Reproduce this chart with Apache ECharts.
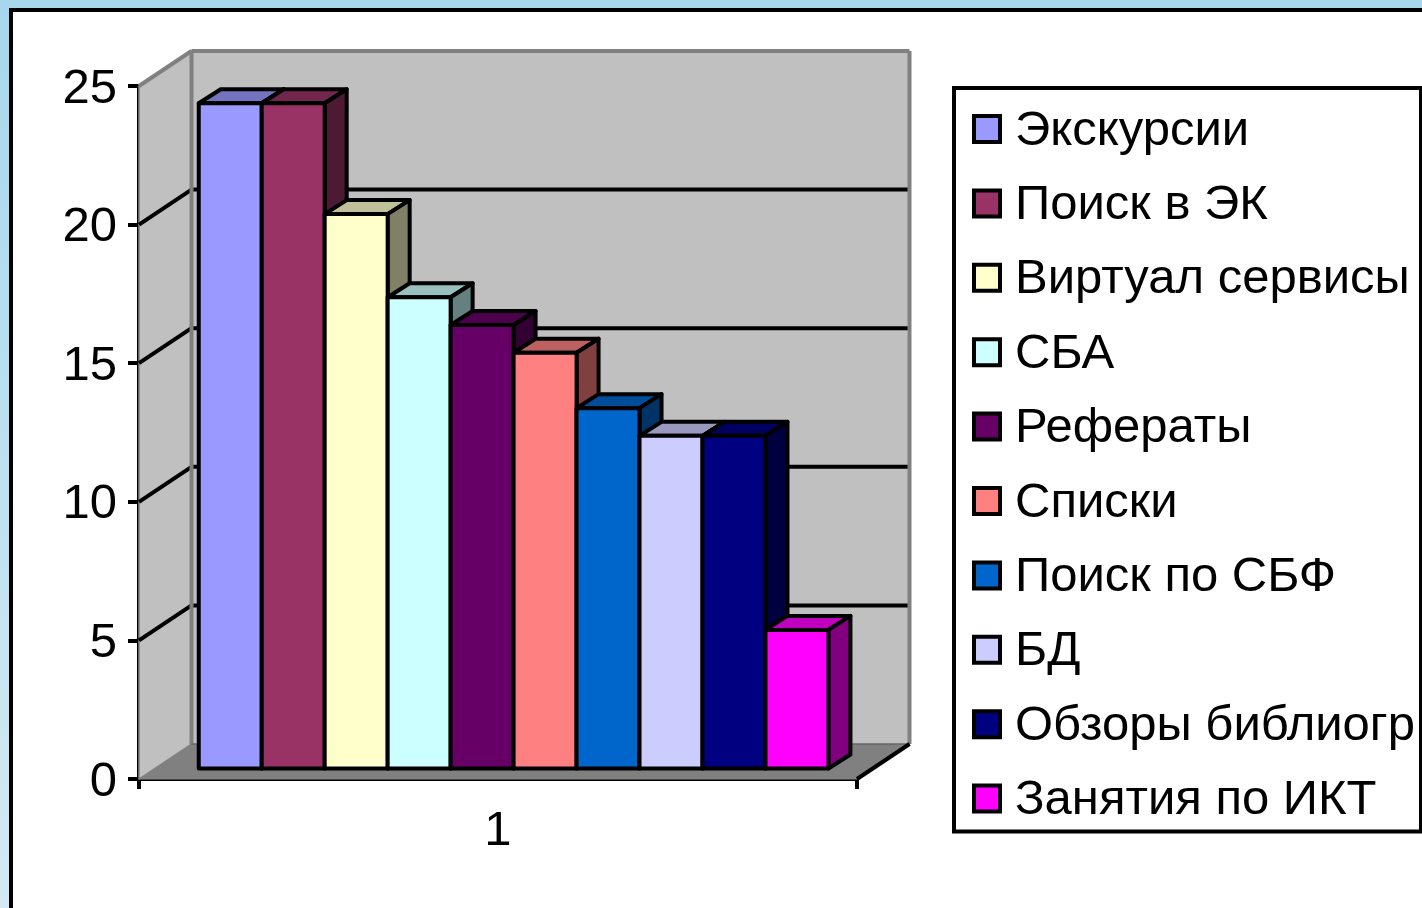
<!DOCTYPE html>
<html>
<head>
    <meta charset="utf-8">
    <title>Услуги</title>
    <script src="https://cdn.jsdelivr.net/npm/echarts@6/dist/echarts.min.js"></script>
    <style>
        html, body { margin: 0; padding: 0; overflow: hidden; }
    </style>
</head>
<body>
<div id="main" style="width: 1422px;height:908px;"></div>
<script type="text/javascript">
    var categories = ['1'];
    var names = ['Экскурсии', 'Поиск в ЭК', 'Виртуал сервисы', 'СБА', 'Рефераты', 'Списки', 'Поиск по СБФ', 'БД', 'Обзоры библиогр', 'Занятия по ИКТ'];
    var values = [24, 24, 20, 17, 16, 15, 13, 12, 12, 5];
    var colors = ['#9999FF', '#993366', '#FFFFCC', '#CCFFFF', '#660066', '#FF8080', '#0066CC', '#CCCCFF', '#000080', '#FF00FF'];
    var yTicks = [5, 10, 15, 20];

    var font = '"Liberation Sans", Arial, sans-serif';
    // 3D look: wall depth and where the bars sit inside it
    var wallDx = 52.5, wallDy = -35;
    var barShiftX = 15.6, barShiftY = -10.5;
    var barDx = 22, barDy = -14;
    var groupRatio = 0.877;

    var myChart = echarts.init(document.getElementById('main'));

    function shade(hex, k) {
        var n = parseInt(hex.slice(1), 16);
        var r = Math.round((n >> 16 & 255) * k);
        var g = Math.round((n >> 8 & 255) * k);
        var b = Math.round((n & 255) * k);
        return 'rgb(' + r + ',' + g + ',' + b + ')';
    }

    function poly(points, fill, stroke, width) {
        return {
            type: 'polygon',
            shape: {points: points},
            style: {fill: fill, stroke: stroke, lineWidth: width, lineJoin: 'round'}
        };
    }

    function line(p1, p2, stroke, width) {
        return {
            type: 'line',
            shape: {x1: p1[0], y1: p1[1], x2: p2[0], y2: p2[1]},
            style: {stroke: stroke, lineWidth: width}
        };
    }

    // side wall, back wall, floor and the grid lines on them
    function renderWalls(params, api) {
        var top = api.coord([0, 25])[1];
        var bottom = api.coord([0, 0])[1];
        var cs = params.coordSys;
        var x0 = cs.x, x1 = cs.x + cs.width;
        var bx0 = x0 + wallDx, bx1 = x1 + wallDx;
        var items = [
            poly([[x0, bottom], [bx0, bottom + wallDy], [bx1, bottom + wallDy], [x1, bottom]], '#808080', '#808080', 1),
            poly([[x0, top], [bx0, top + wallDy], [bx0, bottom + wallDy], [x0, bottom]], '#C0C0C0', '#808080', 1.5),
            poly([[bx0, top + wallDy], [bx1, top + wallDy], [bx1, bottom + wallDy], [bx0, bottom + wallDy]], '#C0C0C0', null, 0)
        ];
        for (var i = 0; i < yTicks.length; i++) {
            var y = api.coord([0, yTicks[i]])[1];
            items.push(line([x0, y], [bx0, y + wallDy], '#000', 4));
            items.push(line([bx0, y + wallDy], [bx1, y + wallDy], '#000', 4));
        }
        items.push(line([x0, top], [bx0, top + wallDy], '#808080', 4));
        items.push(line([bx0, top + wallDy], [bx1, top + wallDy], '#808080', 4));
        items.push(line([bx0, top + wallDy], [bx0, bottom + wallDy], '#808080', 4));
        items.push(line([bx1, top + wallDy], [bx1, bottom + wallDy], '#808080', 4));
        items.push(line([bx0, bottom + wallDy], [bx1, bottom + wallDy], '#666666', 1.5));
        items.push(line([x1, bottom], [bx1, bottom + wallDy], '#000', 4));
        return {type: 'group', children: items};
    }

    function makeBarRenderer(index) {
        return function (params, api) {
            var center = api.coord([api.value(0), 0])[0];
            var band = api.size([1, 0])[0];
            var w = band * groupRatio / values.length;
            var left = center - band * groupRatio / 2 + index * w + barShiftX;
            var right = left + w;
            var base = api.coord([0, 0])[1] + barShiftY;
            var top = api.coord([0, api.value(1)])[1] + barShiftY;
            var color = colors[index];
            return {
                type: 'group',
                children: [
                    poly([[left, top], [left + barDx, top + barDy], [right + barDx, top + barDy], [right, top]], shade(color, 0.75), '#000', 4),
                    poly([[right, top], [right + barDx, top + barDy], [right + barDx, base + barDy], [right, base]], shade(color, 0.5), '#000', 4),
                    poly([[left, top], [right, top], [right, base], [left, base]], color, '#000', 4)
                ]
            };
        };
    }

    var series = [{
        type: 'custom',
        name: 'walls',
        renderItem: renderWalls,
        encode: {x: 0, y: 1},
        clip: false,
        silent: true,
        data: [[0, 0]]
    }];
    var legendData = [];
    for (var i = 0; i < names.length; i++) {
        series.push({
            type: 'custom',
            name: names[i],
            renderItem: makeBarRenderer(i),
            encode: {x: 0, y: 1},
            clip: false,
            itemStyle: {color: colors[i]},
            data: [[0, values[i]]]
        });
        legendData.push({
            name: names[i],
            icon: 'rect',
            itemStyle: {color: colors[i], borderColor: '#000', borderWidth: 4}
        });
    }

    var option = {
        animation: false,
        backgroundColor: {
            type: 'linear', x: 0, y: 0, x2: 0, y2: 1,
            colorStops: [{offset: 0, color: '#A6D7EC'}, {offset: 1, color: '#D4E9F4'}]
        },
        textStyle: {fontFamily: font},
        graphic: [{
            type: 'rect',
            z: -1,
            shape: {x: 11, y: 10, width: 1500, height: 1000},
            style: {fill: '#fff', stroke: '#000', lineWidth: 4}
        }],
        grid: {left: 139, top: 86, width: 718, height: 693},
        legend: {
            orient: 'vertical',
            left: 954,
            top: 88,
            padding: [18.5, 6, 6.5, 18],
            itemWidth: 26,
            itemHeight: 26,
            itemGap: 25.4,
            selectedMode: false,
            backgroundColor: '#fff',
            borderColor: '#000',
            borderWidth: 4,
            formatter: function (name) {
                return '{t|' + name + '}';
            },
            textStyle: {
                fontFamily: font,
                fontSize: 49,
                color: '#000',
                rich: {t: {fontFamily: font, fontSize: 49, color: '#000', padding: [4, 0, 0, 10]}}
            },
            data: legendData
        },
        xAxis: {
            type: 'category',
            data: categories,
            axisLine: {lineStyle: {color: '#000', width: 4}},
            axisTick: {show: true, length: 10, lineStyle: {color: '#000', width: 4}},
            axisLabel: {color: '#000', fontFamily: font, fontSize: 49, margin: 28}
        },
        yAxis: {
            type: 'value',
            min: 0,
            max: 25,
            interval: 5,
            splitLine: {show: false},
            axisLine: {show: true, lineStyle: {color: '#000', width: 4}},
            axisTick: {show: true, length: 11, lineStyle: {color: '#000', width: 4}},
            axisLabel: {
                margin: 22,
                formatter: '{t|{value}}',
                rich: {t: {fontFamily: font, fontSize: 49, color: '#000', padding: [6, 0, 0, 0]}}
            }
        },
        series: series
    };

    myChart.setOption(option);
</script>
</body>
</html>
